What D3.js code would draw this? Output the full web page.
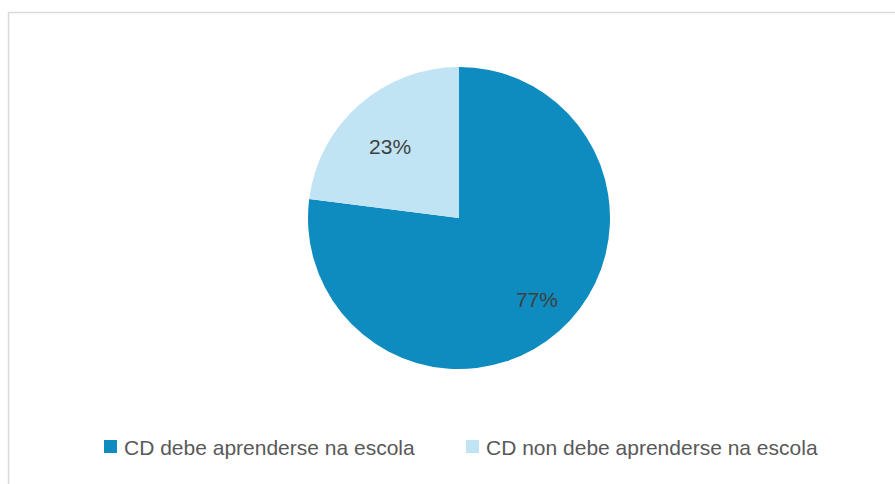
<!DOCTYPE html>
<html><head><meta charset="utf-8">
<script src="https://cdn.jsdelivr.net/npm/d3@7/dist/d3.min.js"></script>
<style>body{margin:0;background:#fff;}svg{display:block;font-family:"Liberation Sans",Arial,sans-serif;}</style>
</head><body>
<svg id="c" width="895" height="484"></svg>
<script>
const categories = ["CD debe aprenderse na escola", "CD non debe aprenderse na escola"];
const values = [77, 23];
const labels = ["77%", "23%"];
const colors = ["#0E8BBF", "#C1E4F5"];
const labelFactors = [0.75, 0.66];

const svg = d3.select("#c");
// chart frame
svg.append("path").attr("d", "M8.5,490 V12.5 H900").attr("fill","none").attr("stroke","#d9d9d9").attr("stroke-width",1.5);

const cx = 459, cy = 218, r = 151;
const pie = d3.pie().sort(null).value(d => d)(values);
const arc = d3.arc().innerRadius(0).outerRadius(r);
const g = svg.append("g").attr("transform", `translate(${cx},${cy})`);
g.selectAll("path").data(pie).join("path")
  .attr("d", arc).attr("fill", (d,i) => colors[i]);

g.selectAll("text").data(pie).join("text")
  .attr("transform", (d,i) => {
    const la = d3.arc().innerRadius(r*labelFactors[i]).outerRadius(r*labelFactors[i]);
    const c = la.centroid(d);
    const shift = i === 0 ? [3, -3] : [-3, 3];
    return `translate(${c[0]+shift[0]},${c[1]+shift[1]})`;
  })
  .attr("text-anchor","middle").attr("dominant-baseline","central")
  .attr("font-size", 21).attr("fill", "#404040")
  .text((d,i) => labels[i]);

// legend
const legendX = [104, 466];
const lg = svg.append("g");
categories.forEach((c,i) => {
  lg.append("rect").attr("x", legendX[i]).attr("y", 440).attr("width", 13).attr("height", 13).attr("fill", colors[i]);
  lg.append("text").attr("x", legendX[i]+20).attr("y", 447).attr("dominant-baseline","central")
    .attr("font-size", 21).attr("fill", "#595959").text(c);
});
</script>
</body></html>
